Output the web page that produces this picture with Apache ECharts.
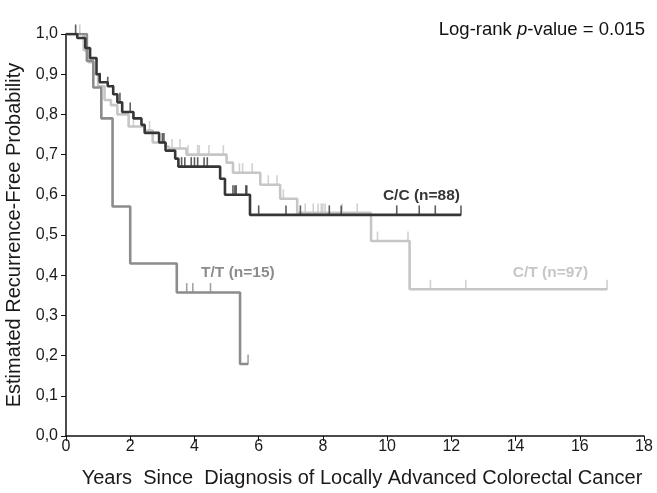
<!DOCTYPE html>
<html>
<head>
<meta charset="utf-8">
<script src="https://cdn.jsdelivr.net/npm/echarts@6/dist/echarts.min.js"></script>
<style>
  html, body { margin: 0; padding: 0; background: #fff; }
  #main { width: 657px; height: 493px; }
</style>
</head>
<body>
<div id="main"></div>
<script>
// step curves: [years, probability] - value holds from that time on
var ccCurve = [[0, 1.0], [0.35, 0.99], [0.6, 0.965], [0.75, 0.94], [0.95, 0.90], [1.05, 0.88],
  [1.3, 0.87], [1.47, 0.85], [1.6, 0.83], [1.75, 0.806], [2.1, 0.79], [2.35, 0.774],
  [2.45, 0.754], [2.9, 0.73], [3.1, 0.71], [3.4, 0.69], [3.5, 0.67], [4.8, 0.64],
  [4.95, 0.60], [5.73, 0.55], [12.3, 0.55]];
var ctCurve = [[0, 1.0], [0.55, 0.96], [0.7, 0.93], [0.85, 0.90], [1.0, 0.87], [1.2, 0.836],
  [1.4, 0.823], [1.6, 0.80], [1.95, 0.77], [2.45, 0.76], [2.7, 0.73], [3.1, 0.72],
  [3.2, 0.715], [3.75, 0.70], [5.0, 0.68], [5.2, 0.655], [6.05, 0.625], [6.67, 0.59],
  [7.2, 0.555], [9.5, 0.485], [10.7, 0.365], [16.85, 0.365]];
var ttCurve = [[0, 1.0], [0.65, 0.933], [0.85, 0.867], [1.1, 0.79], [1.45, 0.571],
  [2.0, 0.429], [3.45, 0.357], [5.42, 0.179], [5.67, 0.179]];

// censoring times
var ccCensor = [0.3, 1.06, 1.3, 1.47, 1.68, 2.0, 3.0, 3.05, 3.6, 3.7, 3.9, 4.0, 4.1, 4.3, 4.4,
  5.2, 5.26, 5.3, 5.6, 5.63, 6.0, 6.85, 7.3, 8.2, 8.57, 10.3, 11.0, 11.5, 12.3];
var ctCensor = [0.43, 0.62, 2.1, 2.6, 3.3, 3.55, 3.8, 4.1, 4.15, 4.45, 4.9, 5.4, 5.5, 5.8,
  6.3, 6.57, 6.77, 7.45, 7.7, 7.85, 7.95, 8.0, 8.07, 8.6, 9.07, 9.7, 10.65, 11.35, 12.45, 16.85];
var ttCensor = [3.76, 3.95, 4.5, 5.67];

var groupNames = ['C/C (n=88)', 'C/T (n=97)', 'T/T (n=15)'];
var labelPos = [[12.27, 0.55], [16.26, 0.365], [6.5, 0.357]];

var colors = ['#363636', '#c6c6c6', '#8c8c8c'];

function valueAt(curve, t) {
  var v = curve[0][1];
  for (var i = 0; i < curve.length; i++) {
    if (curve[i][0] <= t) v = curve[i][1];
  }
  return v;
}

function censorPoints(curve, times) {
  return times.map(function (t) { return [t, valueAt(curve, t)]; });
}

var curves = [ccCurve, ctCurve, ttCurve];
var censors = [ccCensor, ctCensor, ttCensor];
var labelDist = [11, 9, 12];

var series = [];
// draw light first, then mid, then dark on top
[1, 2, 0].forEach(function (i) {
  var z = 2 + (i === 0 ? 2 : i === 2 ? 1 : 0);
  series.push({
    name: groupNames[i],
    type: 'line',
    step: 'end',
    data: curves[i],
    showSymbol: false,
    lineStyle: { color: colors[i], width: 2.6 },
    z: z,
    markPoint: {
      symbol: 'rect',
      symbolSize: 0.1,
      data: [{
        coord: labelPos[i],
        label: {
          show: true,
          formatter: groupNames[i],
          position: 'top',
          distance: labelDist[i],
          align: 'right',
          color: colors[i],
          fontFamily: 'Liberation Sans',
          fontWeight: 'bold',
          fontSize: 15.5
        }
      }]
    }
  });
  series.push({
    type: 'scatter',
    data: censorPoints(curves[i], censors[i]),
    symbol: 'rect',
    symbolSize: [1.6, 10],
    symbolOffset: [0, -4.5],
    itemStyle: { color: colors[i] },
    z: z
  });
});

var myChart = echarts.init(document.getElementById('main'));

option = {
  animation: false,
  backgroundColor: '#fff',
  grid: { left: 66, right: 13, top: 34, bottom: 57, outerBoundsMode: 'none' },
  xAxis: {
    type: 'value',
    min: 0,
    max: 18,
    interval: 2,
    name: 'Years  Since  Diagnosis of Locally Advanced Colorectal Cancer',
    nameLocation: 'middle',
    nameGap: 32,
    nameTextStyle: { fontFamily: 'Liberation Sans', fontSize: 20, color: '#1a1a1a', padding: [0, 0, 0, 14] },
    axisLine: { lineStyle: { color: '#111', width: 1.5 } },
    axisTick: { length: 5, lineStyle: { color: '#111' } },
    axisLabel: { fontFamily: 'Liberation Sans', fontSize: 16, color: '#1a1a1a', margin: 3 },
    splitLine: { show: false }
  },
  yAxis: {
    type: 'value',
    min: 0,
    max: 1,
    interval: 0.1,
    name: 'Estimated Recurrence-Free Probability',
    nameLocation: 'middle',
    nameGap: 36,
    nameTextStyle: { fontFamily: 'Liberation Sans', fontSize: 20, color: '#1a1a1a' },
    axisLine: { show: true, lineStyle: { color: '#111', width: 1.5 } },
    axisTick: { show: true, length: 5, lineStyle: { color: '#111' } },
    axisLabel: {
      fontFamily: 'Liberation Sans', fontSize: 16, color: '#1a1a1a', margin: 8,
      formatter: function (v) { return v.toFixed(1).replace('.', ','); }
    },
    splitLine: { show: false }
  },
  graphic: [{
    type: 'text',
    right: 12,
    top: 20,
    style: {
      text: '{n|Log-rank }{i|p}{n|-value = 0.015}',
      rich: {
        n: { fontFamily: 'Liberation Sans', fontSize: 18.5, fill: '#111' },
        i: { fontFamily: 'Liberation Sans', fontSize: 18.5, fontStyle: 'italic', fill: '#111' }
      }
    }
  }],
  series: series
};

myChart.setOption(option);
</script>
</body>
</html>
